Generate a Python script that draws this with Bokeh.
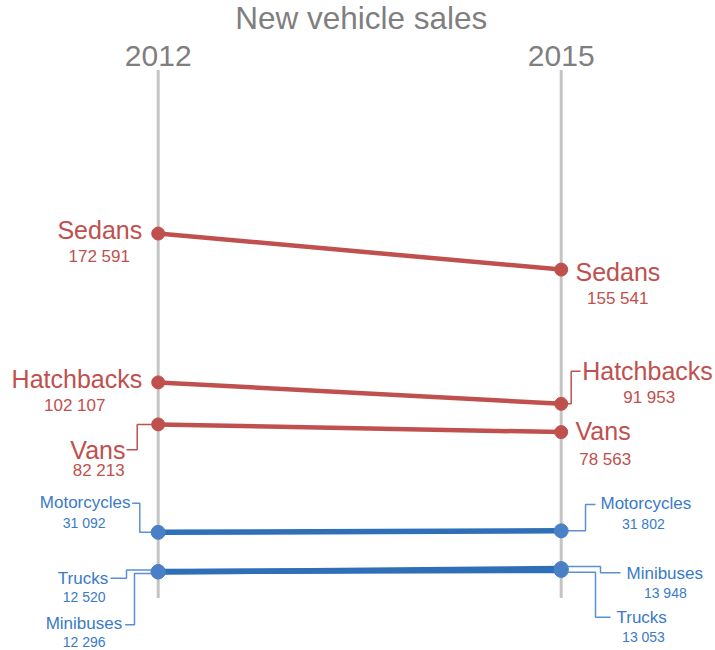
from bokeh.plotting import figure
from bokeh.models import Range1d
from bokeh.core.properties import value
from bokeh.embed import file_html
from bokeh.resources import INLINE

# ---------------- data ----------------
title_text = "New vehicle sales"
years = [2012, 2015]
categories = ["Sedans", "Hatchbacks", "Vans", "Motorcycles", "Trucks", "Minibuses"]
sales_2012 = [172591, 102107, 82213, 31092, 12520, 12296]
sales_2015 = [155541, 91953, 78563, 31802, 13053, 13948]
groups = ["car", "car", "car", "other", "other", "other"]
axis_max = 250000

# ---------------- layout / style ----------------
W, H = 715, 650
PXY = 403 / 3.0               # pixels per year
LEFT_PX = 157.7               # canvas x of first year
K = 0.0021116                 # pixels per unit of sales
U = 1.0 / K                   # units per pixel
ZERO_PX = 597.5               # canvas y of value 0
X_START = years[0] - LEFT_PX / PXY
X_END = X_START + W / PXY
Y_END = ZERO_PX * U
Y_START = Y_END - H * U
BASE_FIX = 0.39               # baseline correction, in em

FONT = value("Liberation Sans")
GRAY = "#7f7f7f"
AXIS_GRAY = "#c4c4c4"
STYLE = {
    "car":   dict(line="#c0504d", point="#c0504d", leader="#c0504d", text="#c0504d",
                  lw=4.5, size=13, name_fs=25, val_fs=17),
    "other": dict(line="#2e6fb7", point="#4a80c6", leader="#5b90d3", text="#3a7ac8",
                  lw=5.5, size=14, name_fs=17, val_fs=14),
}

# label placement, pixel offsets from the point: (name_dx, name_dy, val_dx, val_dy, leader)
LAYOUT = {
    ("Sedans", 0):      (-16, 6, -59, 30, None),
    ("Hatchbacks", 0):  (-16, 6.4, -83.5, 29.8, None),
    ("Vans", 0):        (-32.7, 35.4, -59.5, 53, [(-31.7, 25.4), (-21, 25.4), (-21, 0), (0, 0)]),
    ("Motorcycles", 0): (-27.7, -23.5, -74, -3.5, [(-26, -29.2), (-18.4, -29.2), (-18.4, 0), (0, 0)]),
    ("Trucks", 0):      (-50, 14, -74, 30.6, [(-47.7, 6.6), (-31.7, 6.6), (-31.7, -1.5), (0, -1.5)]),
    ("Minibuses", 0):   (-36, 58.5, -74, 75.5, [(-33, 52.8), (-23.7, 52.8), (-23.7, 1.5), (0, 1.5)]),
    ("Sedans", 1):      (14.3, 12.6, 56.5, 35.9, None),
    ("Hatchbacks", 1):  (21, -23.3, 88, 0, [(0, 0), (10, 0), (10, -32.6), (19.3, -32.6)]),
    ("Vans", 1):        (14.3, 9.1, 44, 34.4, None),
    ("Motorcycles", 1): (39.3, -21, 82.1, -1, [(0, 0), (24.3, 0), (24.3, -26.35), (34.3, -26.35)]),
    ("Minibuses", 1):   (65.3, 11.25, 104.1, 30.25, [(0, -2), (39.3, -2), (39.3, 4.25), (59.3, 4.25)]),
    ("Trucks", 1):      (55.3, 53.4, 82.3, 71.8, [(0, 1.8), (34.3, 1.8), (34.3, 46.8), (49.3, 46.8)]),
}


def fx(year, dx):
    return year + dx / PXY


def fy(v, dy):
    return v - dy * U


def ty(v, dy, fs):
    # text baseline position with correction for rendered baseline offset
    return fy(v, dy - BASE_FIX * fs)


def fmt(v):
    return f"{v:,}".replace(",", " ")


p = figure(width=W, height=H, x_range=Range1d(X_START, X_END), y_range=Range1d(Y_START, Y_END),
           output_backend="svg", toolbar_location=None, min_border=0,
           outline_line_color=None, background_fill_color="white", border_fill_color="white")
p.axis.visible = False
p.grid.visible = False

# vertical year axes
p.segment(x0=years, y0=[0, 0], x1=years, y1=[axis_max, axis_max], line_color=AXIS_GRAY, line_width=3)

# title and year labels
TITLE_FS, YEAR_FS = 31.5, 30
p.text(x=[(years[0] + years[1]) / 2 + 1.6 / PXY], y=[ty(Y_END, 30, TITLE_FS)], text=[title_text],
       text_font=FONT, text_font_size=f"{TITLE_FS}px", text_color=GRAY, text_align="center",
       text_baseline="alphabetic")
p.text(x=years, y=[ty(Y_END, 67.3, YEAR_FS)] * 2, text=[str(y) for y in years],
       text_font=FONT, text_font_size=f"{YEAR_FS}px", text_color=GRAY, text_align="center",
       text_baseline="alphabetic")

vals = [sales_2012, sales_2015]

# slope lines
for g in ["car", "other"]:
    st = STYLE[g]
    idx = [i for i, gg in enumerate(groups) if gg == g]
    p.multi_line(xs=[list(years) for _ in idx], ys=[[sales_2012[i], sales_2015[i]] for i in idx],
                 line_color=st["line"], line_width=st["lw"], line_cap="round")

# leaders
for g in ["car", "other"]:
    st = STYLE[g]
    lx, ly = [], []
    for i, c in enumerate(categories):
        if groups[i] != g:
            continue
        for side in (0, 1):
            lead = LAYOUT[(c, side)][4]
            if lead:
                lx.append([fx(years[side], dx) for dx, dy in lead])
                ly.append([fy(vals[side][i], dy) for dx, dy in lead])
    if lx:
        p.multi_line(xs=lx, ys=ly, line_color=st["leader"], line_width=1.5)

# points
for g in ["car", "other"]:
    st = STYLE[g]
    px_, py_ = [], []
    for i, c in enumerate(categories):
        if groups[i] == g:
            for side in (0, 1):
                px_.append(years[side])
                py_.append(vals[side][i])
    p.scatter(x=px_, y=py_, size=st["size"], fill_color=st["point"], line_color=st["point"])

# labels
for g in ["car", "other"]:
    st = STYLE[g]
    for side in (0, 1):
        nx, ny, nt, vx, vy, vt = [], [], [], [], [], []
        for i, c in enumerate(categories):
            if groups[i] != g:
                continue
            ndx, ndy, vdx, vdy, _ = LAYOUT[(c, side)]
            v = vals[side][i]
            nx.append(fx(years[side], ndx)); ny.append(ty(v, ndy, st["name_fs"])); nt.append(c)
            vx.append(fx(years[side], vdx)); vy.append(ty(v, vdy, st["val_fs"])); vt.append(fmt(v))
        p.text(x=nx, y=ny, text=nt, text_font=FONT, text_font_size=f"{st['name_fs']}px",
               text_color=st["text"], text_align="right" if side == 0 else "left",
               text_baseline="alphabetic")
        p.text(x=vx, y=vy, text=vt, text_font=FONT, text_font_size=f"{st['val_fs']}px",
               text_color=st["text"], text_align="center", text_baseline="alphabetic")

open("out.html", "w").write(file_html(p, INLINE))
